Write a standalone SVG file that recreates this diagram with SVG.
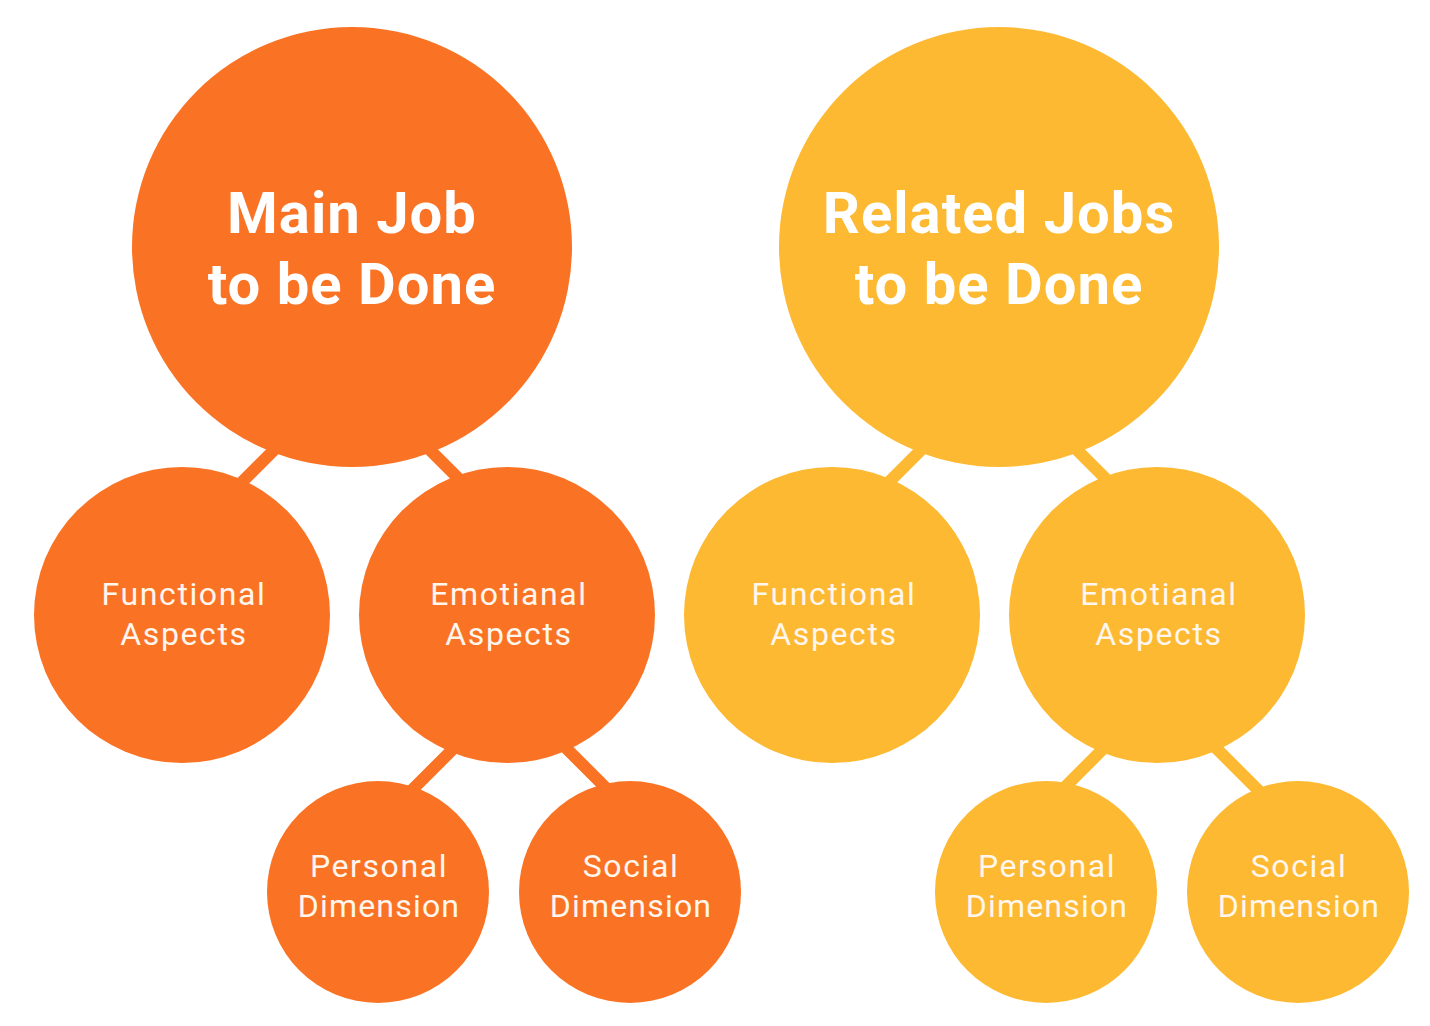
<svg xmlns="http://www.w3.org/2000/svg" width="1430" height="1026" viewBox="0 0 1430 1026">
<style>
.o{fill:#FA7324}
.y{fill:#FDB931}
.lo{stroke:#FA7324;stroke-width:12;fill:none}
.ly{stroke:#FDB931;stroke-width:12;fill:none}
.big{font-family:Roboto,"Liberation Sans",sans-serif;font-weight:700;font-size:58px;letter-spacing:1px;fill:#FFFFFF;text-anchor:middle}
.sm{font-family:Roboto,"Liberation Sans",sans-serif;font-weight:400;font-size:32px;letter-spacing:1.6px;fill:#FFF6EE;text-anchor:middle}
.dm{letter-spacing:1.2px}
</style>
<rect width="1430" height="1026" fill="#FFFFFF"/>
<g id="connectors">
<line class="lo" x1="294" y1="430" x2="214" y2="510"/>
<line class="lo" x1="410" y1="430" x2="490" y2="510"/>
<line class="lo" x1="477" y1="725" x2="397" y2="805"/>
<line class="lo" x1="543" y1="725" x2="623" y2="805"/>
<line class="ly" x1="941" y1="430" x2="861" y2="510"/>
<line class="ly" x1="1057" y1="430" x2="1137" y2="510"/>
<line class="ly" x1="1127" y1="725" x2="1047" y2="805"/>
<line class="ly" x1="1193" y1="725" x2="1273" y2="805"/>
</g>
<g id="main-job">
<circle class="o" cx="352" cy="247" r="220"/>
<text class="big" x="352" y="233">Main Job</text>
<text class="big" x="352" y="304">to be Done</text>
</g>
<g id="main-functional">
<circle class="o" cx="182" cy="615" r="148"/>
<text class="sm" x="184" y="605">Functional</text>
<text class="sm" x="184" y="645">Aspects</text>
</g>
<g id="main-emotional">
<circle class="o" cx="507" cy="615" r="148"/>
<text class="sm" x="509" y="605">Emotianal</text>
<text class="sm" x="509" y="645">Aspects</text>
</g>
<g id="main-personal">
<circle class="o" cx="378" cy="892" r="111"/>
<text class="sm" x="379" y="877">Personal</text>
<text class="sm dm" x="379" y="917">Dimension</text>
</g>
<g id="main-social">
<circle class="o" cx="630" cy="892" r="111"/>
<text class="sm" x="631" y="877">Social</text>
<text class="sm dm" x="631" y="917">Dimension</text>
</g>
<g id="related-jobs">
<circle class="y" cx="999" cy="247" r="220"/>
<text class="big" x="999" y="233">Related Jobs</text>
<text class="big" x="999" y="304">to be Done</text>
</g>
<g id="related-functional">
<circle class="y" cx="832" cy="615" r="148"/>
<text class="sm" x="834" y="605">Functional</text>
<text class="sm" x="834" y="645">Aspects</text>
</g>
<g id="related-emotional">
<circle class="y" cx="1157" cy="615" r="148"/>
<text class="sm" x="1159" y="605">Emotianal</text>
<text class="sm" x="1159" y="645">Aspects</text>
</g>
<g id="related-personal">
<circle class="y" cx="1046" cy="892" r="111"/>
<text class="sm" x="1047" y="877">Personal</text>
<text class="sm dm" x="1047" y="917">Dimension</text>
</g>
<g id="related-social">
<circle class="y" cx="1298" cy="892" r="111"/>
<text class="sm" x="1299" y="877">Social</text>
<text class="sm dm" x="1299" y="917">Dimension</text>
</g>
</svg>
